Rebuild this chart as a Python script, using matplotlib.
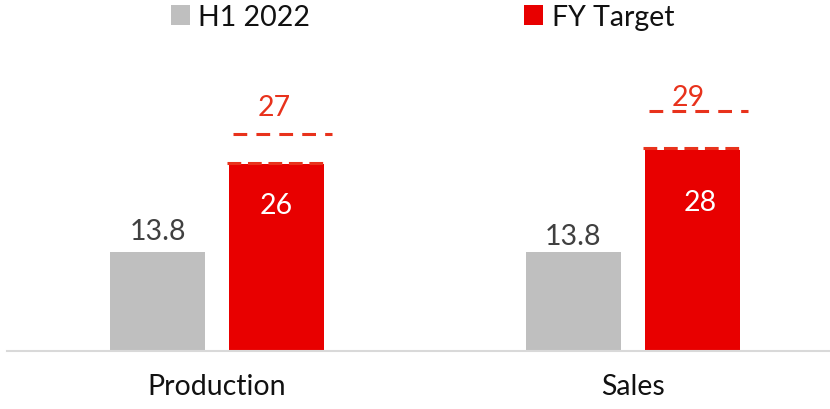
"""
H1 2022 vs FY target, production and sales (bar chart with target range).
"""
import matplotlib
matplotlib.use('Agg')
import matplotlib.pyplot as plt
from matplotlib.patches import Patch

# data
categories = ['Production', 'Sales']
h1_2022 = [13.8, 13.8]
fy_target = [26, 28]
target_high = [27, 29]
# upper dashed line levels as drawn in the picture (value units)
target_high_level = [30.2, 33.4]

GRAY = '#BFBFBF'
RED = '#E80000'
DASH_RED = '#E8321C'
FS = 20.5

plt.rcParams['font.family'] = ['Lato', 'DejaVu Sans']


def plot_chart():
    fig = plt.figure(figsize=(8.3, 4.1), dpi=100)
    ax = fig.add_axes([7 / 830, 58 / 410, 823 / 830, 312 / 410])

    x = list(range(len(categories)))
    width = 0.228
    off = 0.143
    x_h1 = [i - off for i in x]
    x_fy = [i + off for i in x]

    ax.bar(x_h1, h1_2022, width=width, color=GRAY, zorder=2)
    ax.bar(x_fy, fy_target, width=width, color=RED, zorder=2)

    # dashed target range lines
    for i in x:
        ax.hlines(fy_target[i] + 0.25, x_fy[i] - width / 2 - 0.005, x_fy[i] + width / 2 + 0.005,
                  colors=DASH_RED, linewidth=2.2, linestyles=(0, (4.5, 2.2)), zorder=3)
        ax.hlines(target_high_level[i], x_fy[i] - width / 2 + 0.01, x_fy[i] + width / 2 + 0.02,
                  colors=DASH_RED, linewidth=2.2, linestyles=(0, (4.5, 3.0)), zorder=3)

    # value labels
    h1_pad = [21, 16]
    for i in x:
        ax.annotate(f'{h1_2022[i]}', (x_h1[i], h1_2022[i]), xytext=(0, h1_pad[i]),
                    textcoords='offset pixels', ha='center', va='center',
                    fontsize=FS, color='#404040')

    inner_pad = [-41, -52]
    inner_dx = [0, 8]
    for i in x:
        ax.annotate(f'{fy_target[i]}', (x_fy[i], fy_target[i]), xytext=(inner_dx[i], inner_pad[i]),
                    textcoords='offset pixels', ha='center', va='center',
                    fontsize=FS, color='white')

    high_pad = [27, 14]
    high_dx = [-2, -4]
    for i in x:
        ax.annotate(f'{target_high[i]}', (x_fy[i], target_high_level[i]),
                    xytext=(high_dx[i], high_pad[i]), textcoords='offset pixels',
                    ha='center', va='center', fontsize=FS, color=DASH_RED)

    ax.set_xlim(-0.505, 1.474)
    ax.set_ylim(0, 312 / 7.18)
    ax.set_xticks(x)
    ax.set_xticklabels(categories, fontsize=FS, color='#111111')
    ax.tick_params(axis='x', length=0, pad=16)
    ax.set_yticks([])
    for side in ['top', 'right', 'left']:
        ax.spines[side].set_visible(False)
    ax.spines['bottom'].set_color('#D9D9D9')
    ax.spines['bottom'].set_linewidth(1.5)

    handles = [Patch(facecolor=GRAY, edgecolor='none', label='H1 2022'),
               Patch(facecolor=RED, edgecolor='none', label='FY Target')]
    fig.legend(handles=handles, loc='center', bbox_to_anchor=(0.509, 0.956), ncol=2,
               frameon=False, fontsize=FS, handlelength=0.68, handleheight=0.68,
               handletextpad=0.3, columnspacing=7.5, borderpad=0, labelcolor='#111111')

    fig.savefig('out.png', dpi=100)
    plt.close(fig)


if __name__ == '__main__':
    plot_chart()
